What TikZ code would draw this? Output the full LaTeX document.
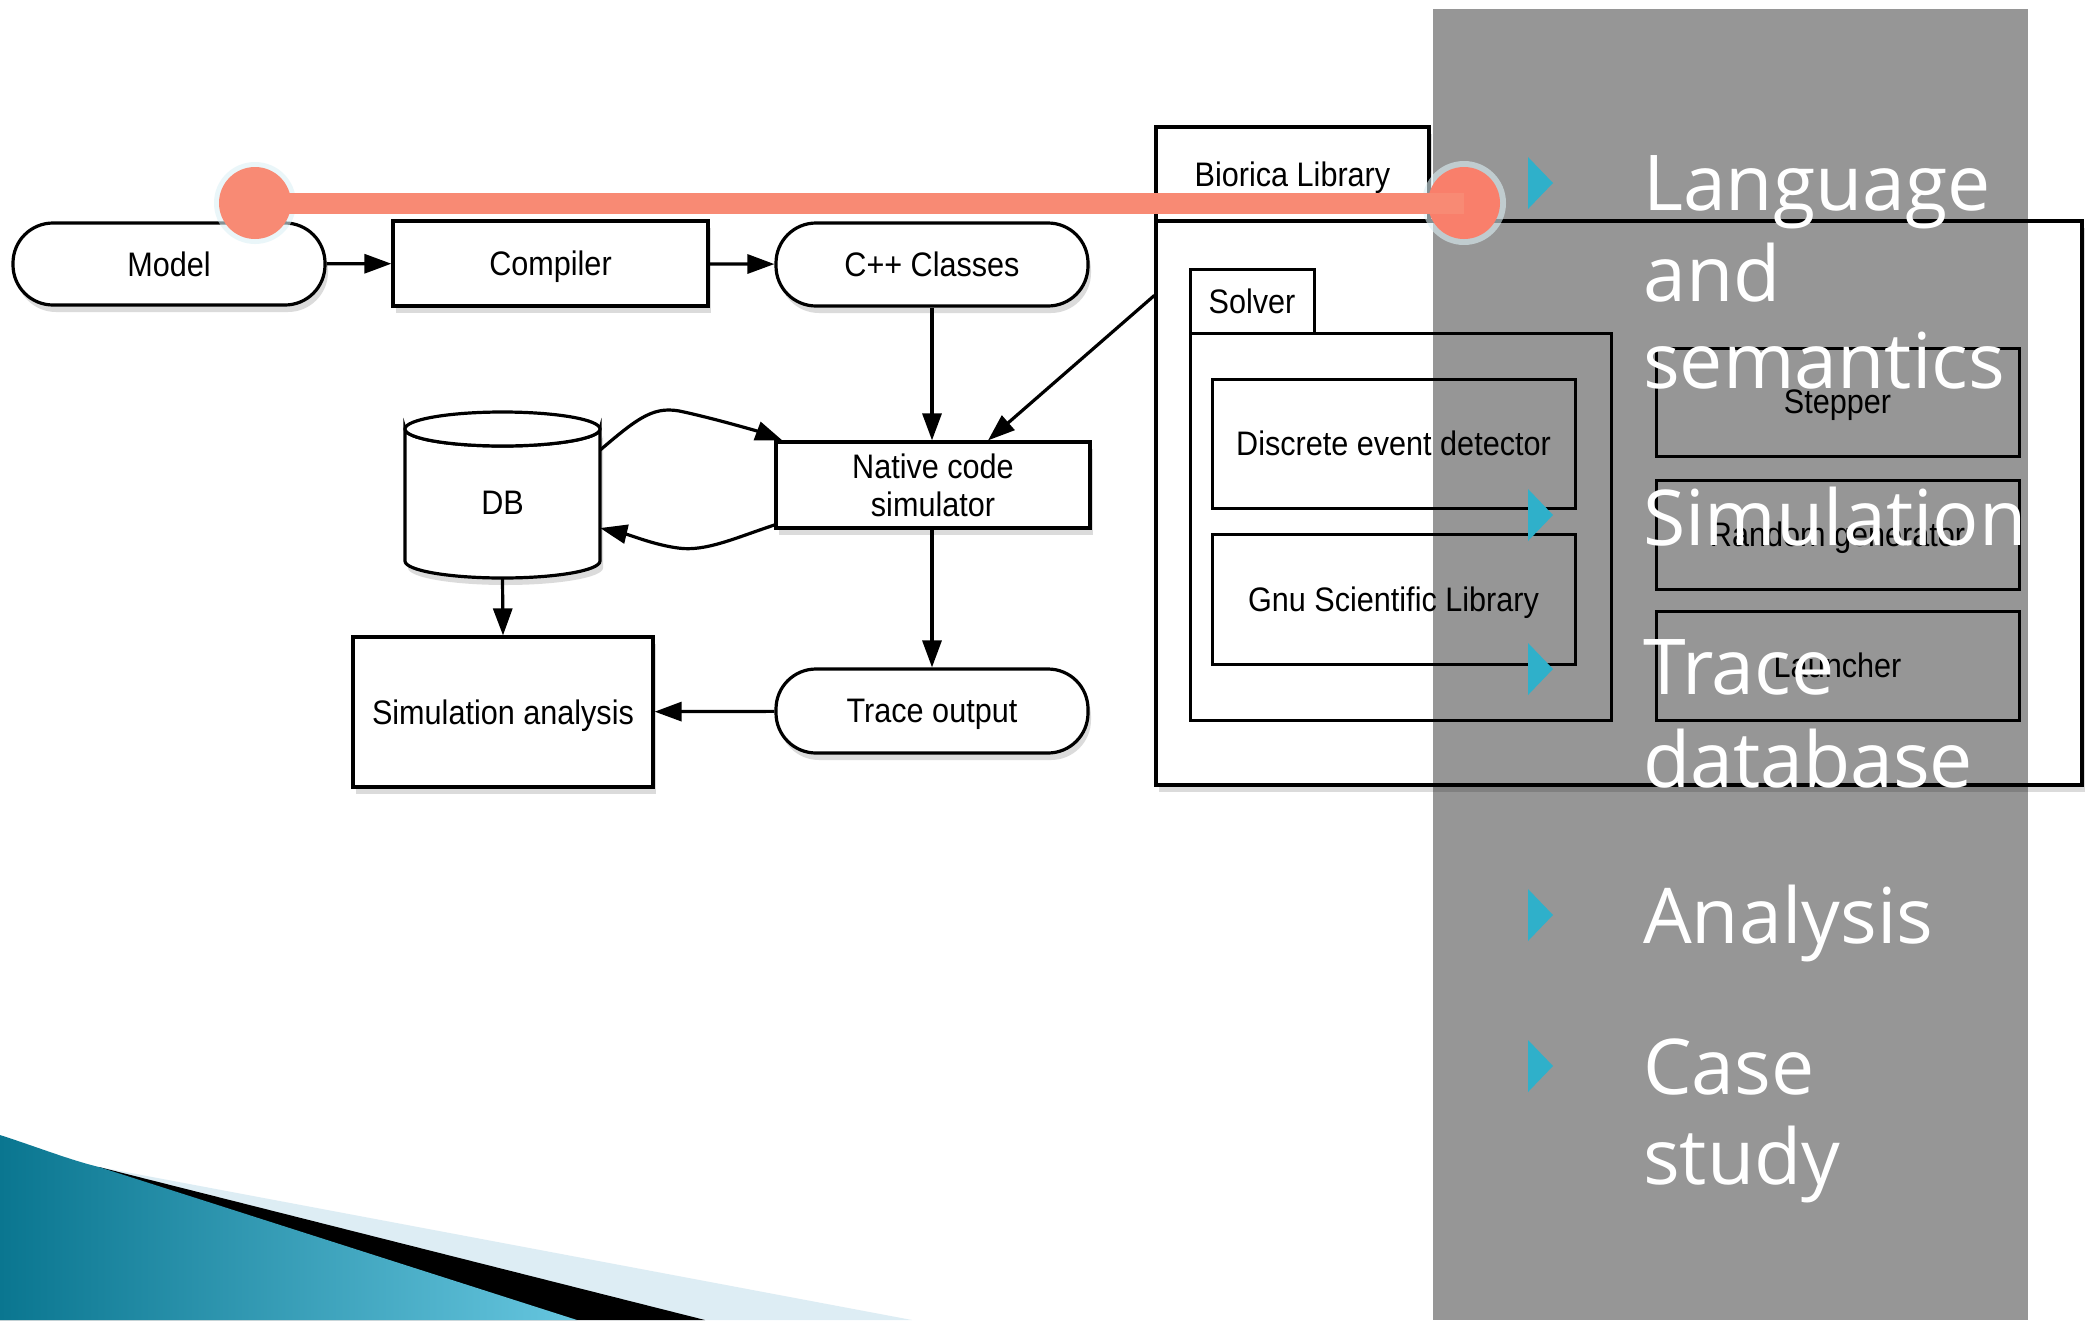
\documentclass[tikz,border=0pt]{standalone}
\usepackage{fontspec}
\usetikzlibrary{arrows.meta,shadows,calc}
\newfontfamily\diagfont[FakeStretch=0.9]{Liberation Sans}
\newfontfamily\slidefont{Open Sans}
\definecolor{salmon}{HTML}{F88A74}
\definecolor{bulcyan}{HTML}{2FB0CA}
\definecolor{blueA}{HTML}{0A7690}
\definecolor{blueB}{HTML}{66C6DF}
\definecolor{paleblue}{HTML}{DDEDF4}
\definecolor{glow}{HTML}{DDF1F5}
\tikzset{
  dtext/.style={font=\diagfont\fontsize{34}{38}\selectfont},
  dshadow/.style={drop shadow={shadow xshift=3pt, shadow yshift=-7pt, opacity=0.28}},
  pill/.style={draw, line width=3.2pt, fill=white, rounded corners=40pt, dshadow, dtext, inner sep=0, text depth=0pt},
  sqbox/.style={draw, line width=3.2pt, fill=white, dshadow, dtext, inner sep=0, text depth=0pt},
  inbox/.style={draw, line width=3pt, fill=white, dtext, inner sep=0, text depth=0pt},
  conn/.style={line width=3.2pt, -{Triangle[length=27pt,width=19pt]}},
  item/.style={font=\slidefont\fontsize{77}{90}\selectfont, text=white, anchor=base west, inner sep=0},
  dot/.style={circle, fill=salmon, inner sep=0},
}
\begin{document}
\begin{tikzpicture}[x=1pt,y=-1pt]
\useasboundingbox (0,0) rectangle (2098,1320);
\fill[white] (0,0) rectangle (2098,1320);

% bottom-left decoration
\fill[paleblue] (99,1167) -- (912,1320) -- (0,1320) -- cycle;
\fill[black] (99,1167) -- (705,1320) -- (0,1320) -- cycle;
\shade[left color=blueA, right color=blueB] (0,1135) .. controls (40,1148) and (70,1160) .. (99,1167) -- (577,1320) -- (0,1320) -- cycle;

% left diagram
\node[pill, minimum width=312pt, minimum height=82pt] (model) at (169,264) {Model};
\node[sqbox, minimum width=315pt, minimum height=85pt] (compiler) at (550.5,263.5) {Compiler};
\node[pill, minimum width=312pt, minimum height=83pt] (cpp) at (932,264.5) {C++ Classes};
\node[sqbox, minimum width=314pt, minimum height=86pt, align=center, text depth=] (native) at (933,485) {Native code\\simulator};
\node[inner sep=0, minimum width=195pt, minimum height=166pt] (db) at (502.5,495) {};
\draw[fill=white, line width=3.2pt, dshadow] (405,429) -- (405,561) arc[start angle=180, end angle=0, x radius=97.5, y radius=17] -- (600,429) arc[start angle=0, end angle=180, x radius=97.5, y radius=17] -- cycle;
\draw[fill=white, line width=3.2pt] (502.5,429) ellipse [x radius=97.5, y radius=17];
\node[dtext, inner sep=0] (dblabel) at (502.5,503) {DB};
\node[sqbox, minimum width=300pt, minimum height=150pt] (sim) at (503,712) {Simulation analysis};
\node[pill, minimum width=312pt, minimum height=84pt] (trace) at (932,711) {Trace output};

% right diagram (Biorica library)
\node[sqbox, minimum width=273pt, minimum height=94pt] (libtab) at (1292.5,174) {Biorica Library};
\node[sqbox, minimum width=926pt, minimum height=564pt] (lib) at (1619,503) {};
\node[inbox, minimum width=124pt, minimum height=64pt] (soltab) at (1252,301) {Solver};
\node[inbox, minimum width=421pt, minimum height=387pt] (solver) at (1400.5,526.5) {};
\node[inbox, minimum width=363pt, minimum height=129pt] (ded) at (1393.5,443.5) {Discrete event detector};
\node[inbox, minimum width=363pt, minimum height=130pt] (gsl) at (1393.5,599) {Gnu Scientific Library};
\node[inbox, minimum width=363pt, minimum height=108pt] (stepper) at (1837.5,402) {Stepper};
\node[inbox, minimum width=363pt, minimum height=109pt] (rand) at (1837.5,534.5) {Random generator};
\node[inbox, minimum width=363pt, minimum height=109pt] (launch) at (1837.5,665.5) {Launcher};

% connectors
\draw[conn] (model) -- (compiler);
\draw[conn] (compiler) -- (cpp);
\draw[conn] (cpp) -- (native.north -| cpp.south);
\draw[conn] ([yshift=-76pt]lib.north west) -- ([xshift=55pt]native.north);
\draw[conn] (native.south -| trace.north) -- (trace.north);
\draw[conn] (db.south) -- (sim.north);
\draw[conn] (trace) -- (sim);
\draw[conn] ([yshift=45pt]db.east) .. controls (640,416) and (655,405) .. (684,412) .. controls (720,420) and (760,432) .. ([xshift=8pt]native.north west);
\draw[conn] ([yshift=-40pt]native.west) .. controls (735,538) and (705,552) .. (678,548) .. controls (655,545) and (630,535) .. ([yshift=-33pt]db.east);

% gray overlay
\fill[black, opacity=0.41] (1433,9) rectangle (2028,1320);

% red line with dots
\fill[glow, opacity=0.6] (255,203) circle (41);
\fill[glow, opacity=0.6] (1464,203) circle (42);
\node[dot, minimum size=72pt] (dotL) at (255,203) {};
\node[dot, minimum size=72pt, fill=salmon!92!red] (dotR) at (1464,203) {};
\draw[salmon, line width=21pt] (dotL.center) -- (dotR.center);

% bullets
\foreach \yy in {183,515,669,915,1066} {
  \fill[bulcyan] (1528,\yy-26) -- (1553,\yy) -- (1528,\yy+26) -- cycle;
}
\node[item] (t1a) at (1643,210) {Language};
\node[item] (t1b) at (1643,301) {and};
\node[item] (t1c) at (1643,388) {semantics};
\node[item] (t2) at (1643,545) {Simulation};
\node[item] (t3a) at (1643,694) {Trace};
\node[item] (t3b) at (1643,787) {database};
\node[item] (t4) at (1643,943) {Analysis};
\node[item] (t5a) at (1643,1094) {Case};
\node[item] (t5b) at (1643,1184) {study};
\end{tikzpicture}
\end{document}
